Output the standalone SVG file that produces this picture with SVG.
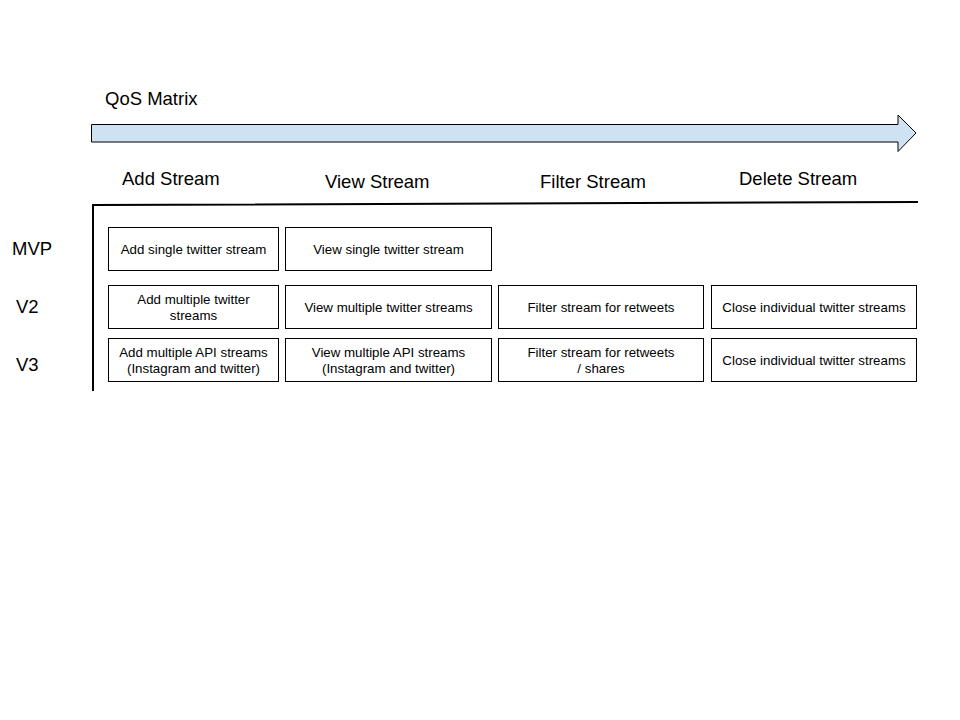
<svg xmlns="http://www.w3.org/2000/svg" width="960" height="720" viewBox="0 0 960 720">
<style>
.bx{fill:#fff;stroke:#000;stroke-width:1}
.t{font-family:"Liberation Sans",Arial,sans-serif;font-size:13.3px;fill:#000;text-anchor:middle}
.h{font-family:"Liberation Sans",Arial,sans-serif;font-size:18.5px;fill:#000}
.ax{fill:none;stroke:#000;stroke-width:2}
</style>
<rect width="960" height="720" fill="#fff"/>
<text class="h" x="105" y="105">QoS Matrix</text>
<g id="arrow">
<polygon points="91.5,124.5 898,124.5 898,115 916,133 898,151.5 898,142 91.5,142" fill="#cfe2f3" stroke="#000" stroke-width="1"/>
</g>
<g id="headers">
<text class="h" x="122" y="185">Add Stream</text>
<text class="h" x="325" y="188">View Stream</text>
<text class="h" x="540" y="188">Filter Stream</text>
<text class="h" x="739" y="185">Delete Stream</text>
</g>
<g id="rows">
<text class="h" x="12" y="255">MVP</text>
<text class="h" x="16" y="313">V2</text>
<text class="h" x="16" y="371">V3</text>
</g>
<g id="connectors">
<polyline class="ax" points="93,391 93,205 918,202"/>
</g>
<g id="n-add-mvp"><rect class="bx" x="108.5" y="227.5" width="170" height="43"/><text class="t" x="193.5" y="254">Add single twitter stream</text></g>
<g id="n-view-mvp"><rect class="bx" x="285.5" y="227.5" width="206" height="43"/><text class="t" x="388.5" y="254">View single twitter stream</text></g>
<g id="n-add-v2"><rect class="bx" x="108.5" y="285.5" width="170" height="43"/><text class="t" x="193.5" y="304">Add multiple twitter</text><text class="t" x="193.5" y="320">streams</text></g>
<g id="n-view-v2"><rect class="bx" x="285.5" y="285.5" width="206" height="43"/><text class="t" x="388.5" y="312">View multiple twitter streams</text></g>
<g id="n-filter-v2"><rect class="bx" x="498.5" y="285.5" width="205" height="43"/><text class="t" x="601" y="312">Filter stream for retweets</text></g>
<g id="n-delete-v2"><rect class="bx" x="711.5" y="285.5" width="205" height="43"/><text class="t" x="814" y="312">Close individual twitter streams</text></g>
<g id="n-add-v3"><rect class="bx" x="108.5" y="338.5" width="170" height="43"/><text class="t" x="193.5" y="357">Add multiple API streams</text><text class="t" x="193.5" y="373">(Instagram and twitter)</text></g>
<g id="n-view-v3"><rect class="bx" x="285.5" y="338.5" width="206" height="43"/><text class="t" x="388.5" y="357">View multiple API streams</text><text class="t" x="388.5" y="373">(Instagram and twitter)</text></g>
<g id="n-filter-v3"><rect class="bx" x="498.5" y="338.5" width="205" height="43"/><text class="t" x="601" y="357">Filter stream for retweets</text><text class="t" x="601" y="373">/ shares</text></g>
<g id="n-delete-v3"><rect class="bx" x="711.5" y="338.5" width="205" height="43"/><text class="t" x="814" y="365">Close individual twitter streams</text></g>
</svg>
